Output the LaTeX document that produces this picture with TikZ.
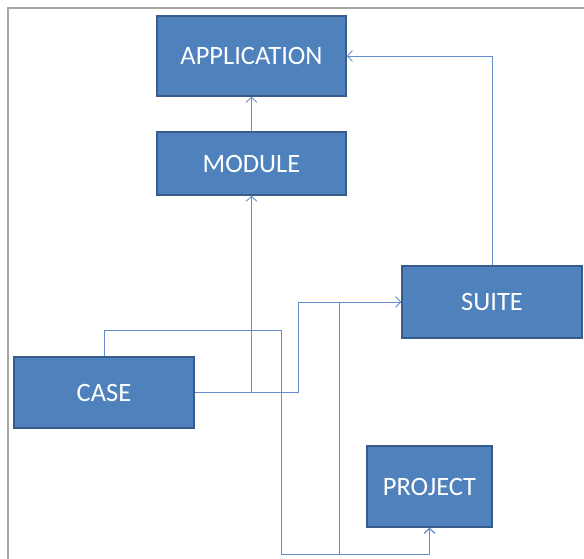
\documentclass[tikz,border=0pt]{standalone}
\usepackage{fontspec}
\setmainfont{Carlito}
\usetikzlibrary{arrows.meta}
\usetikzlibrary{calc}

\begin{document}
\begin{tikzpicture}[x=1pt,y=-1pt,entity/.style={
      rectangle,
      fill=oblue,
      draw=dblue,
      line width=1.6pt,
      text=white,
      font=\fontsize{26.5}{30}\selectfont,
      inner sep=0pt
    },
    link/.style={
      -{Straight Barb[length=5pt,width=11pt]},
      draw=lblue,
      line width=0.9pt
    }]

\definecolor{oblue}{RGB}{79,129,189}
\definecolor{dblue}{RGB}{56,93,138}
\definecolor{lblue}{RGB}{98,140,204}
\definecolor{framegray}{RGB}{166,166,166}

\useasboundingbox (0,0) rectangle (584,559);
\draw[framegray,line width=2pt] (7.5,559) -- (7.5,8) -- (584,8);

\node[entity,minimum width=189pt,minimum height=80pt] (app) at (251.5,56) {APPLICATION};
\node[entity,minimum width=189pt,minimum height=63pt] (mod) at (251.5,163.5) {MODULE};
\node[entity,minimum width=180pt,minimum height=71pt] (case) at (104,392.5) {CASE};
\node[entity,minimum width=180pt,minimum height=72pt] (suite) at (492,302) {SUITE};
\node[entity,minimum width=125pt,minimum height=81pt] (proj) at (429.5,486.5) {PROJECT};

\draw[link] (mod) -- (app);
\draw[link] (case.east) -| (mod.south);
\draw[link] (case.east) -- ++(104,0) |- (suite.west);
\draw[link] (case.north) -- ++(0,-26) -- ++(177,0) -- ++(0,224) -| (proj.south);
\draw[link] (suite.west) -- ++(-62,0) -- ++(0,252) -| (proj.south);
\draw[link] (suite.north) |- (app.east);

\end{tikzpicture}
\end{document}
